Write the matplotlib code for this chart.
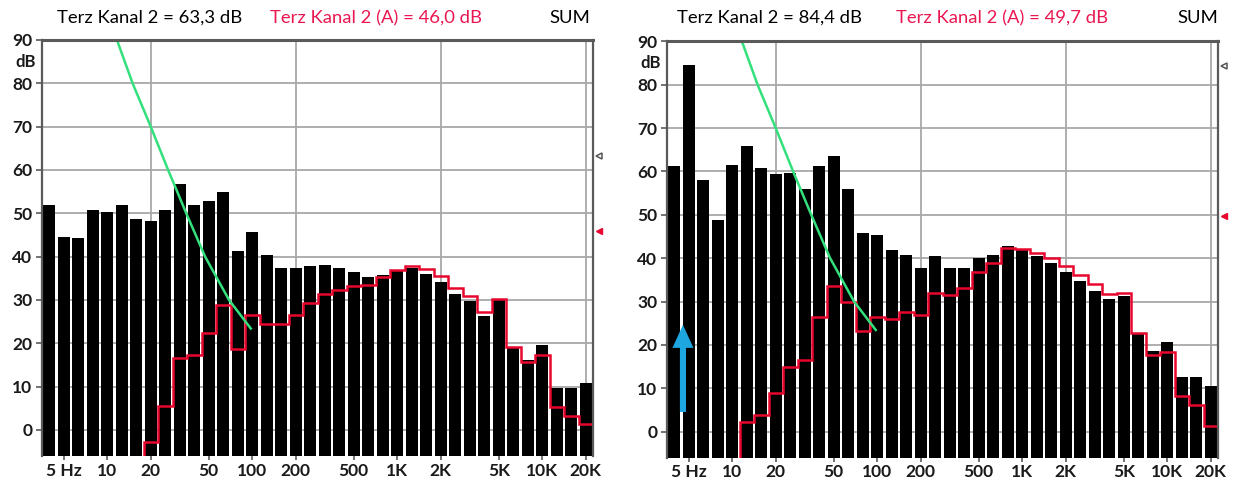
import numpy as np
import matplotlib
matplotlib.use("Agg")
import matplotlib.pyplot as plt
import matplotlib.transforms as mtransforms

# ---------------- data ----------------
bands = ["4", "5", "6.3", "8", "10", "12.5", "16", "20", "25", "31.5", "40", "50", "63", "80",
         "100", "125", "160", "200", "250", "315", "400", "500", "630", "800", "1K", "1.25K",
         "1.6K", "2K", "2.5K", "3.15K", "4K", "5K", "6.3K", "8K", "10K", "12.5K", "16K", "20K"]
tick_bands = ["5", "10", "20", "50", "100", "200", "500", "1K", "2K", "5K", "10K", "20K"]
tick_labels = ["5 Hz", "10", "20", "50", "100", "200", "500", "1K", "2K", "5K", "10K", "20K"]
grid_bands = ["20", "200", "2K", "20K"]

left_levels = [52.0, 44.5, 44.2, 50.8, 50.3, 52.0, 48.8, 48.2, 50.8, 56.8, 52.0, 52.8, 54.9, 41.3,
               45.8, 40.4, 37.5, 37.5, 37.9, 38.1, 37.4, 36.4, 35.4, 35.8, 36.8, 37.4, 36.0, 34.2,
               31.4, 29.8, 26.2, 30.0, 19.1, 16.2, 19.6, 9.6, 9.6, 10.8]
left_a_start = "20"
left_a_levels = [-2.8, 5.6, 16.6, 17.4, 22.5, 28.9, 18.7, 26.6, 24.5, 24.5, 26.6, 29.3, 31.4, 32.3,
                 33.3, 33.5, 35.2, 36.9, 37.8, 37.2, 35.5, 32.8, 31.0, 27.2, 30.3, 19.1, 15.6,
                 17.2, 5.2, 3.2, 1.3]
left_sum, left_sum_a = 63.3, 46.0

right_levels = [61.2, 84.6, 58.1, 48.7, 61.4, 65.8, 60.8, 59.5, 59.6, 55.9, 61.2, 63.6, 55.9, 45.8,
                45.4, 41.8, 40.8, 37.8, 40.5, 37.7, 37.7, 40.0, 40.8, 42.9, 42.2, 40.5, 38.8, 36.8,
                34.8, 32.5, 30.6, 31.2, 22.5, 18.5, 20.6, 12.5, 12.5, 10.4]
right_a_start = "12.5"
right_a_levels = [2.2, 3.9, 9.0, 14.8, 16.4, 26.4, 33.5, 29.8, 23.3, 26.4, 25.9, 27.5, 26.9, 31.9,
                  31.4, 33.2, 36.8, 39.0, 42.3, 42.1, 41.3, 40.0, 38.1, 36.2, 34.0, 31.8, 31.9,
                  22.7, 17.6, 18.4, 8.3, 6.2, 1.2]
right_sum, right_sum_a = 84.4, 49.7

# threshold curve (band position, dB)
curve_band_pos = [4.67, 5.75, 7.0, 8.2, 9.45, 10.75, 12.4, 13.95]
curve_db = [90, 80, 70, 60, 50, 40, 30, 23.2]

# arrow on right panel (band position, dB from -> to)
arrow_band_pos = 0.6
arrow_db = (4.5, 24.6)

titles = [("Terz Kanal 2 = 63,3 dB", "Terz Kanal 2 (A) = 46,0 dB"),
          ("Terz Kanal 2 = 84,4 dB", "Terz Kanal 2 (A) = 49,7 dB")]

# ---------------- style ----------------
FONT = ["Lato", "DejaVu Sans"]
plt.rcParams["font.family"] = FONT
RED_LINE = "#e8062e"
RED_TEXT = "#ea1650"
GREEN = "#33e07c"
BLUE = "#1ea6e0"
GRID = "#a8a8a8"
FRAME = "#5a5a5a"
TXT = "#1a1a1a"
YMIN, YMAX = -6, 90

W, H = 1234, 482
fig = plt.figure(figsize=(W / 100, H / 100), dpi=100)
fig.patch.set_facecolor("white")

panels = [
    dict(rect=[42 / W, 26 / H, 551 / W, 416 / H], levels=left_levels, a_start=left_a_start,
         a_levels=left_a_levels, sums=(left_sum, left_sum_a), titles=titles[0], tx=(57, 270, 590),
         arrow=False),
    dict(rect=[667 / W, 24.5 / H, 551 / W, 416 / H], levels=right_levels, a_start=right_a_start,
         a_levels=right_a_levels, sums=(right_sum, right_sum_a), titles=titles[1], tx=(677, 896, 1218),
         arrow=True),
]

pos = np.arange(len(bands))
for p in panels:
    ax = fig.add_axes(p["rect"])
    ax.set_xlim(-0.5, len(bands) - 0.5)
    ax.set_ylim(YMIN, YMAX)

    # grid
    for yv in range(0, 90, 10):
        ax.axhline(yv, color=GRID, lw=1.3, zorder=0)
    for gb in grid_bands:
        ax.axvline(bands.index(gb), color=GRID, lw=1.3, zorder=0)

    # bars
    lv = np.array(p["levels"])
    ax.bar(pos, lv - YMIN, bottom=YMIN, width=0.83, color="black", zorder=2, linewidth=0)

    # A-weighted stairs
    s = bands.index(p["a_start"])
    al = np.array(p["a_levels"])
    edges = np.arange(s, s + len(al) + 1) - 0.5
    ax.stairs(al, edges, baseline=YMIN, color=RED_LINE, lw=1.8, zorder=4)

    # threshold curve
    ax.plot(curve_band_pos, curve_db, color=GREEN, lw=1.8, zorder=5, solid_capstyle="butt")

    if p["arrow"]:
        y0, y1 = arrow_db
        ax.arrow(arrow_band_pos, y0, 0, y1 - y0, width=0.42, head_width=1.45,
                 head_length=5.3, length_includes_head=True, color=BLUE, zorder=6,
                 linewidth=0)

    # sum markers on the right edge
    trans = mtransforms.blended_transform_factory(ax.transAxes, ax.transData)
    ax.plot([1.011], [p["sums"][0]], marker="<", ms=5, mfc="white", mec="#555555", mew=1.1,
            transform=trans, clip_on=False, zorder=7)
    ax.plot([1.011], [p["sums"][1]], marker="<", ms=5, color=RED_LINE, transform=trans,
            clip_on=False, zorder=7)

    # spines
    for side in ["top", "left", "right"]:
        ax.spines[side].set_color(FRAME)
    ax.spines["top"].set_linewidth(2.2)
    ax.spines["left"].set_linewidth(1.6)
    ax.spines["right"].set_linewidth(1.6)
    ax.spines["bottom"].set_visible(False)
    for sp in ax.spines.values():
        sp.set_zorder(8)

    # ticks
    ax.set_yticks(range(0, 91, 10))
    ax.set_yticklabels([str(v) for v in range(0, 91, 10)], fontsize=12.5, fontweight="bold",
                       color=TXT)
    ax.tick_params(axis="y", length=4, width=1.2, color=FRAME, pad=3)
    ax.set_xticks([bands.index(b) for b in tick_bands])
    ax.set_xticklabels(tick_labels, fontsize=12.5, fontweight="bold", color=TXT)
    ax.tick_params(axis="x", length=3, width=1.2, color=FRAME, pad=2)
    ax.text(-0.012, 85, "dB", transform=trans, ha="right", va="center", fontsize=12,
            fontweight="bold", color=TXT)

    # header texts
    t1, t2 = p["titles"]
    x1, x2, x3 = p["tx"]
    fig.text(x1 / W, 1 - 18 / H, t1, ha="left", va="center", fontsize=13.3, color="#000000")
    fig.text(x2 / W, 1 - 18 / H, t2, ha="left", va="center", fontsize=13.3, color=RED_TEXT)
    fig.text(x3 / W, 1 - 18 / H, "SUM", ha="right", va="center", fontsize=13.3, color="#000000")

fig.savefig("out.png", dpi=100, facecolor="white")
